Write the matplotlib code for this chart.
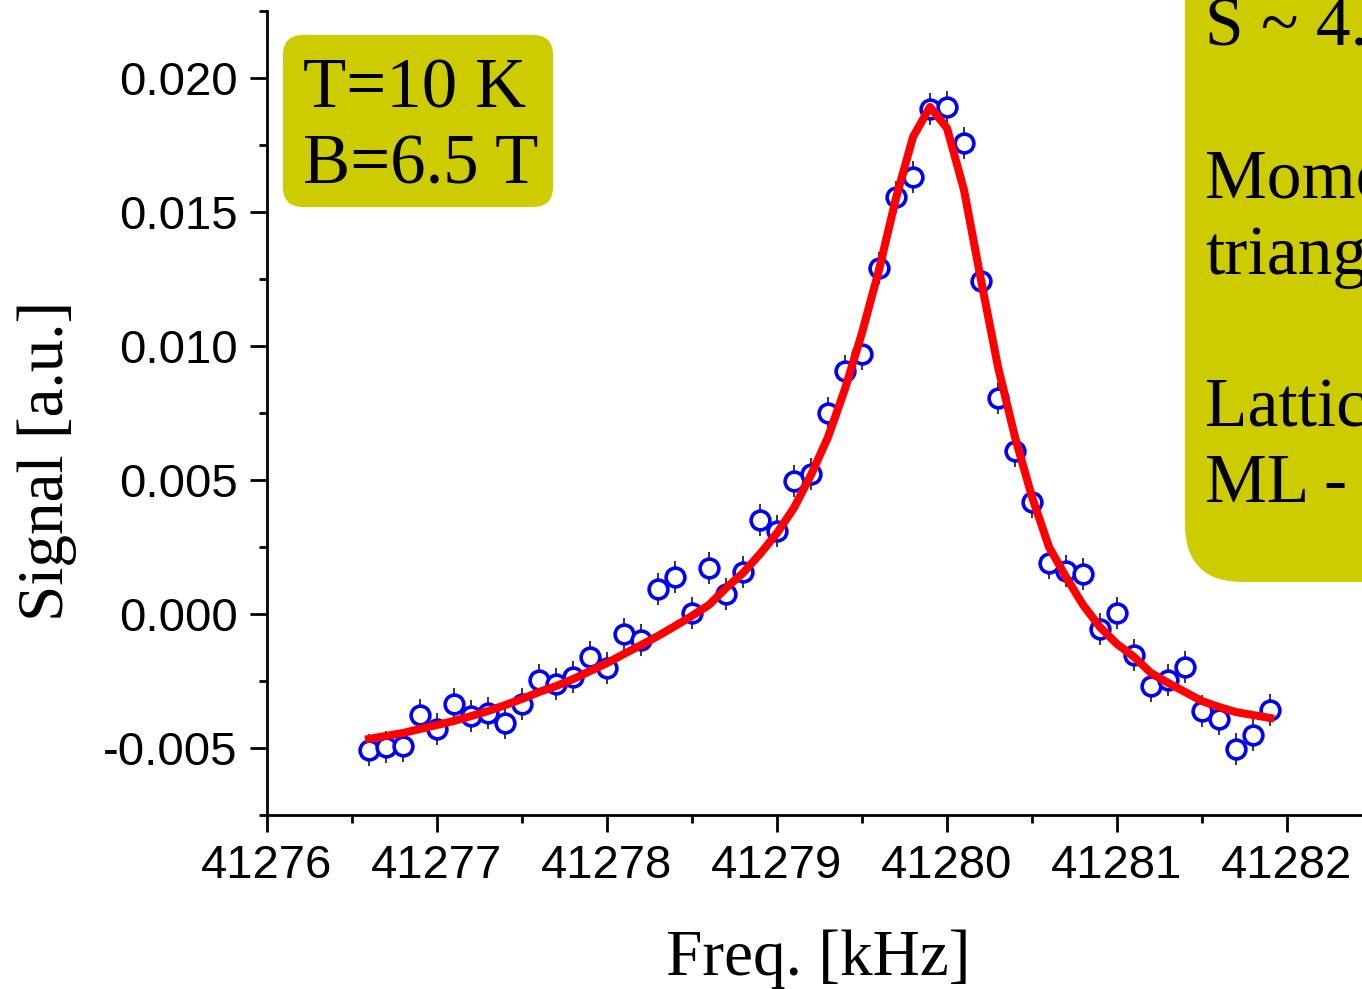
import matplotlib
matplotlib.use("Agg")
import matplotlib.pyplot as plt
from matplotlib.patches import FancyBboxPatch
from matplotlib.transforms import IdentityTransform
from matplotlib.ticker import MultipleLocator

plt.rcParams['axes.unicode_minus'] = False

# ---------------- data ----------------
freq = [41276.6, 41276.7, 41276.8, 41276.9, 41277.0, 41277.1, 41277.2, 41277.3, 41277.4, 41277.5,
        41277.6, 41277.7, 41277.8, 41277.9, 41278.0, 41278.1, 41278.2, 41278.3, 41278.4, 41278.5,
        41278.6, 41278.7, 41278.8, 41278.9, 41279.0, 41279.1, 41279.2, 41279.3, 41279.4, 41279.5,
        41279.6, 41279.7, 41279.8, 41279.9, 41280.0, 41280.1, 41280.2, 41280.3, 41280.4, 41280.5,
        41280.6, 41280.7, 41280.8, 41280.9, 41281.0, 41281.1, 41281.2, 41281.3, 41281.4, 41281.5,
        41281.6, 41281.7, 41281.8, 41281.9]

signal = [-0.00507, -0.00496, -0.00493, -0.00377, -0.00429, -0.00336, -0.00381, -0.00369, -0.00407, -0.00336,
          -0.00246, -0.00261, -0.00235, -0.00160, -0.00201, -0.00075, -0.00097, 0.00093, 0.00138, 0.00004,
          0.00172, 0.00075, 0.00157, 0.00351, 0.00310, 0.00496, 0.00522, 0.00750, 0.00907, 0.00970,
          0.01291, 0.01556, 0.01631, 0.01884, 0.01892, 0.01757, 0.01243, 0.00806, 0.00608, 0.00418,
          0.00190, 0.00160, 0.00149, -0.00056, 0.00004, -0.00153, -0.00269, -0.00246, -0.00198, -0.00362,
          -0.00392, -0.00504, -0.00451, -0.00358]

signal_err = [0.0006] * 54

fit = [-0.00466, -0.00455, -0.00444, -0.00429, -0.00414, -0.00399, -0.00381, -0.00362, -0.00340, -0.00317,
       -0.00291, -0.00269, -0.00243, -0.00213, -0.00183, -0.00149, -0.00116, -0.00082, -0.00045, -0.00007,
       0.00034, 0.00097, 0.00153, 0.00224, 0.00302, 0.00396, 0.00519, 0.00660, 0.00840, 0.01049,
       0.01284, 0.01552, 0.01780, 0.01892, 0.01813, 0.01582, 0.01246, 0.00922, 0.00660, 0.00437,
       0.00250, 0.00138, 0.00034, -0.00049, -0.00112, -0.00160, -0.00220, -0.00257, -0.00291, -0.00325,
       -0.00347, -0.00366, -0.00377, -0.00388]

xticks = [41276, 41277, 41278, 41279, 41280, 41281, 41282]
xticklabels = ["41276", "41277", "41278", "41279", "41280", "41281", "41282"]
yticks = [-0.005, 0.000, 0.005, 0.010, 0.015, 0.020]
yticklabels = ["-0.005", "0.000", "0.005", "0.010", "0.015", "0.020"]

box1_lines = ["T=10 K", "B=6.5 T"]
box2_lines = ["S ~ 4.5", "", "Moments on", "triangular", "", "Lattice", "ML - 1"]

# ---------------- figure ----------------
W, H = 1362, 989
fig = plt.figure(figsize=(W / 100, H / 100), dpi=100)
ax = fig.add_axes([267 / W, (H - 815) / H, (1372 - 267) / W, (815 - 11) / H])

ax.errorbar(freq, signal, yerr=signal_err, fmt='none', ecolor='black', elinewidth=1.1,
            capsize=0, zorder=2)
ax.plot(freq, signal, linestyle='none', marker='o', ms=13.5, mfc='white', mec='#0000ff',
        mew=2.6, zorder=3)
ax.plot(freq, fit, color='#ff0000', lw=5.8, zorder=4)

ax.set_xlim(41276, 41282.5)
ax.set_ylim(-0.0075, 0.0225)

for s in ['top', 'right']:
    ax.spines[s].set_visible(False)
for s in ['left', 'bottom']:
    ax.spines[s].set_linewidth(2)

ax.set_xticks(xticks)
ax.set_xticklabels(xticklabels, family='Liberation Sans', fontsize=34)
ax.set_yticks(yticks)
ax.set_yticklabels(yticklabels, family='Liberation Sans', fontsize=34)
ax.xaxis.set_minor_locator(MultipleLocator(0.5))
ax.yaxis.set_minor_locator(MultipleLocator(0.0025))
ax.tick_params(which='major', direction='out', length=12, width=2, pad=9)
ax.tick_params(which='minor', direction='out', length=6, width=2)

serif = 'Liberation Serif'
fig.text(818 / W, 1 - 975 / H, 'Freq. [kHz]', ha='center', va='baseline',
         fontsize=47, family=serif)
fig.text(47 / W, 1 - 461 / H, 'Signal [a.u.]', ha='center', va='center', rotation=90,
         fontsize=47, family=serif)

# ---------------- annotation boxes ----------------
box_color = '#cccc00'
idt = IdentityTransform()
b1 = FancyBboxPatch((283, H - 207), 553 - 283, 207 - 35,
                    boxstyle='round,pad=0,rounding_size=20', transform=idt,
                    facecolor=box_color, edgecolor='none', zorder=5)
fig.patches.append(b1)
b2 = FancyBboxPatch((1185, H - 582), 400, 700,
                    boxstyle='round,pad=0,rounding_size=58', transform=idt,
                    facecolor=box_color, edgecolor='none', zorder=5)
fig.patches.append(b2)

for i, line in enumerate(box1_lines):
    fig.text(303 / W, 1 - (108 + 76 * i) / H, line, ha='left', va='baseline',
             fontsize=51, family=serif, zorder=6)
for i, line in enumerate(box2_lines):
    if line:
        fig.text(1205 / W, 1 - (45 + 76.2 * i) / H, line, ha='left', va='baseline',
                 fontsize=50, family=serif, zorder=6)

fig.savefig('out.png', dpi=100)
